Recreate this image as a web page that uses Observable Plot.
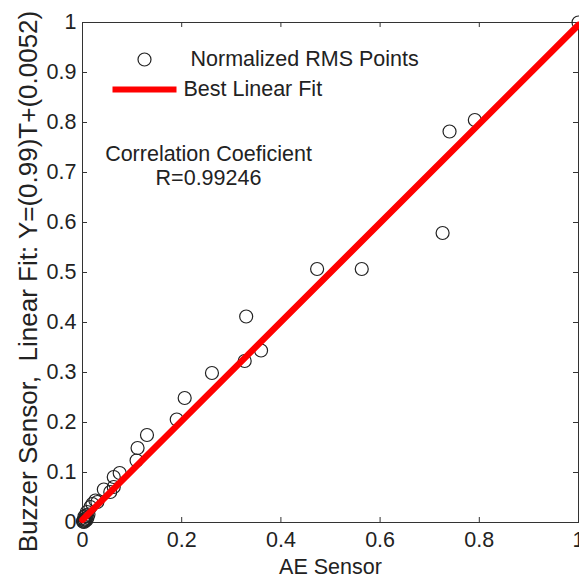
<!DOCTYPE html>
<html>
<head>
<meta charset="utf-8">
<script src="https://cdn.jsdelivr.net/npm/d3@7"></script>
<script src="https://cdn.jsdelivr.net/npm/@observablehq/plot@0.6"></script>
<style>
  html, body { margin: 0; padding: 0; background: #fff; }
  #chart { width: 579px; height: 578px; overflow: hidden; }
</style>
</head>
<body>
<div id="chart"></div>
<script>
// Normalized RMS points (AE Sensor vs Buzzer Sensor)
const aeSensor = [0.001, 0.002, 0.003, 0.004, 0.005, 0.006, 0.008, 0.010, 0.004, 0.007,
  0.012, 0.009, 0.016, 0.020, 0.026, 0.030, 0.043, 0.056, 0.063, 0.063, 0.075,
  0.109, 0.111, 0.130, 0.190, 0.206, 0.261, 0.327, 0.330, 0.360,
  0.473, 0.563, 0.726, 0.740, 0.791, 1.000];
const buzzerSensor = [0.002, 0.004, 0.001, 0.006, 0.003, 0.008, 0.005, 0.010, 0.012, 0.014,
  0.016, 0.021, 0.031, 0.037, 0.044, 0.041, 0.066, 0.061, 0.071, 0.091, 0.099,
  0.124, 0.149, 0.175, 0.206, 0.249, 0.299, 0.323, 0.412, 0.344,
  0.507, 0.507, 0.579, 0.782, 0.805, 1.000];
// Best linear fit Y = 0.99 T + 0.0052
const fitX = [0, 1];
const fitY = [0.0052, 0.9952];
const xTicks = [0, 0.2, 0.4, 0.6, 0.8, 1];
const yTicks = [0, 0.1, 0.2, 0.3, 0.4, 0.5, 0.6, 0.7, 0.8, 0.9, 1];
const legendLabels = ["Normalized RMS Points", "Best Linear Fit"];
const xLabel = "AE Sensor";
const yLabel = "Buzzer Sensor,  Linear Fit: Y=(0.99)T+(0.0052)";
const annotation = "Correlation Coeficient\nR=0.99246";

const points = aeSensor.map((x, i) => ({x, y: buzzerSensor[i]}));
const fit = fitX.map((x, i) => ({x, y: fitY[i]}));

const W = 579, H = 578;
const mL = 82, mR = 1, mT = 22, mB = 56;
const fw = W - mL - mR, fh = H - mT - mB;
const tick = 5;
const axisColor = "#333";
const fs = 21.5;

const chart = Plot.plot({
  width: W, height: H,
  marginLeft: mL, marginRight: mR, marginTop: mT, marginBottom: mB,
  style: {fontFamily: "'Liberation Sans', Arial, sans-serif", fontSize: fs + "px", color: "#222", background: "#fff"},
  x: {domain: [0, 1]},
  y: {domain: [0, 1]},
  marks: [
    Plot.frame({stroke: axisColor, strokeWidth: 1}),
    // inward ticks on all four sides
    Plot.tickX(xTicks, {x: d => d, insetTop: fh - tick, stroke: axisColor}),
    Plot.tickX(xTicks, {x: d => d, insetBottom: fh - tick, stroke: axisColor}),
    Plot.tickY(yTicks, {y: d => d, insetRight: fw - tick, stroke: axisColor}),
    Plot.tickY(yTicks, {y: d => d, insetLeft: fw - tick, stroke: axisColor}),
    Plot.axisX({ticks: xTicks, tickSize: 0, tickPadding: 9, label: null, fontSize: fs, tickFormat: d => String(d)}),
    Plot.axisY({ticks: yTicks, tickSize: 0, tickPadding: 6, label: null, fontSize: fs, tickFormat: d => String(d)}),
    // data
    Plot.dot(points, {x: "x", y: "y", r: 6.5, stroke: "#222", strokeWidth: 1.2, fill: "none"}),
    Plot.line(fit, {x: "x", y: "y", stroke: "#ff0000", strokeWidth: 6.5}),
    // axis titles
    Plot.text([xLabel], {frameAnchor: "bottom", lineAnchor: "middle", dy: 45, fontSize: fs, fill: "#222"}),
    Plot.text([yLabel], {frameAnchor: "left", textAnchor: "middle", lineAnchor: "middle", rotate: -90, dx: -54, dy: 9, fontSize: 26, fill: "#222"}),
    // legend
    Plot.dot([legendLabels[0]], {frameAnchor: "top-left", dx: 62, dy: 37, r: 6.5, stroke: "#222", strokeWidth: 1.2, fill: "none"}),
    Plot.text([legendLabels[0]], {frameAnchor: "top-left", dx: 108, dy: 37, textAnchor: "start", lineAnchor: "middle", fontSize: fs, fill: "#222"}),
    Plot.frame({fill: "#ff0000", stroke: null, insetLeft: 30, insetRight: fw - 94, insetTop: 64, insetBottom: fh - 70}),
    Plot.text([legendLabels[1]], {frameAnchor: "top-left", dx: 101, dy: 67, textAnchor: "start", lineAnchor: "middle", fontSize: fs, fill: "#222"}),
    // annotation
    Plot.text([annotation], {frameAnchor: "top-left", dx: 126, dy: 143, textAnchor: "middle", lineAnchor: "middle", lineHeight: 1.12, fontSize: fs, fill: "#222"})
  ]
});
document.getElementById("chart").appendChild(chart);
</script>
</body>
</html>
